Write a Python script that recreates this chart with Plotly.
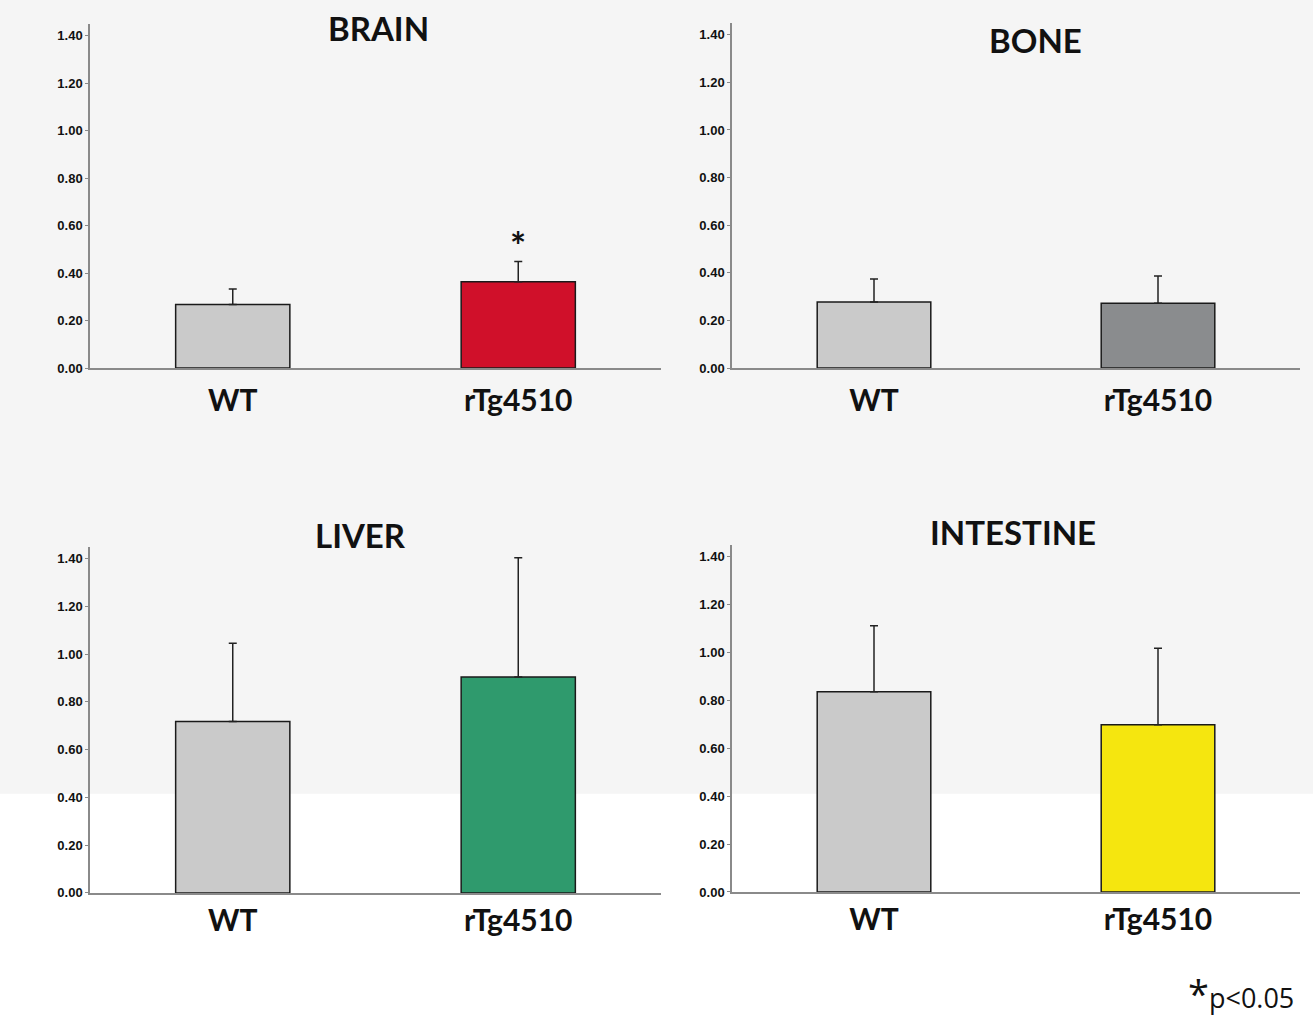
import plotly.graph_objects as go

categories = ["WT", "rTg4510"]
panel_titles = ["BRAIN", "BONE", "LIVER", "INTESTINE"]
means = {
    "BRAIN": [0.268, 0.364],
    "BONE": [0.278, 0.272],
    "LIVER": [0.718, 0.904],
    "INTESTINE": [0.836, 0.698],
}
sems = {
    "BRAIN": [0.065, 0.085],
    "BONE": [0.096, 0.115],
    "LIVER": [0.328, 0.500],
    "INTESTINE": [0.276, 0.320],
}
significant = {"BRAIN": [False, True], "BONE": [False, False],
               "LIVER": [False, False], "INTESTINE": [False, False]}
tick_vals = [0.0, 0.2, 0.4, 0.6, 0.8, 1.0, 1.2, 1.4]

bar_colors = {
    "BRAIN": ["#cacaca", "#d0102a"],
    "BONE": ["#cacaca", "#8a8c8e"],
    "LIVER": ["#cacaca", "#2f9a6d"],
    "INTESTINE": ["#cacaca", "#f5e60f"],
}

W, H = 1313, 1019
# pixel boxes: (x0, x1, ytop, ybottom)
boxes = {
    "BRAIN": (90, 661, 24, 371),
    "BONE": (732, 1300, 23, 371),
    "LIVER": (90, 661, 551, 900),
    "INTESTINE": (732, 1300, 549, 899),
}
title_pos = {"BRAIN": (378, 28), "BONE": (1035, 40), "LIVER": (360, 539), "INTESTINE": (1013, 536)}
x_label_standoff = {"BRAIN": 5, "BONE": 5, "LIVER": 0, "INTESTINE": 0}


def px(x):
    return x / W


def py(y):
    return 1 - y / H


fig = go.Figure()
layout = {}
for i, name in enumerate(panel_titles):
    idx = "" if i == 0 else str(i + 1)
    x0, x1, yt, yb = boxes[name]
    fig.add_trace(go.Bar(
        x=categories, y=means[name],
        xaxis="x" + idx, yaxis="y" + idx,
        width=0.4,
        marker=dict(color=bar_colors[name], line=dict(color="#1a1a1a", width=1.5)),
        error_y=dict(type="data", array=sems[name], arrayminus=[0, 0], symmetric=False,
                     color="#222222", thickness=1.5, width=4),
        showlegend=False, hoverinfo="skip",
    ))
    layout["xaxis" + idx] = dict(
        domain=[px(x0), px(x1)], anchor="y" + idx, type="category",
        categoryorder="array", categoryarray=categories,
        range=[-0.5, 1.5], showline=True, linecolor="#8a8a8a", linewidth=1.5,
        ticks="", showgrid=False, zeroline=False,
        tickfont=dict(family="Lato", size=30, color="#111111", weight="bold"),
        ticklabelstandoff=x_label_standoff[name],
    )
    layout["yaxis" + idx] = dict(
        domain=[py(yb), py(yt)], anchor="x" + idx,
        range=[0, 1.45], tickvals=tick_vals, tickformat=".2f",
        showline=True, linecolor="#8a8a8a", linewidth=1.5,
        ticks="outside", ticklen=3, tickcolor="#8a8a8a",
        showgrid=False, zeroline=False,
        tickfont=dict(family="Liberation Sans", size=13, color="#111111", weight="bold"),
    )
    tx, ty = title_pos[name]
    fig.add_annotation(x=px(tx), y=py(ty), xref="paper", yref="paper",
                       text="<b>" + name + "</b>", showarrow=False,
                       font=dict(family="Lato", size=33, color="#111111"),
                       xanchor="center", yanchor="middle")
    for j, sig in enumerate(significant[name]):
        if sig:
            fig.add_annotation(x=categories[j], y=means[name][j] + sems[name][j],
                               xref="x" + idx, yref="y" + idx, text="<b>*</b>",
                               showarrow=False, yanchor="bottom", yshift=-9,
                               font=dict(family="Lato", size=38, color="#111111"))

fig.add_annotation(x=px(1296), y=py(1001), xref="paper", yref="paper",
                   text="<span style='font-size:38px'>*</span>p<0.05", showarrow=False,
                   xanchor="right", yanchor="middle",
                   font=dict(family="Open Sans", size=27, color="#111111"))

fig.add_shape(type="rect", xref="paper", yref="paper", x0=0, x1=1, y0=py(800), y1=1,
              fillcolor="#f5f5f5", line=dict(width=0), layer="below")

fig.update_layout(
    width=W, height=H, margin=dict(l=0, r=0, t=0, b=0),
    paper_bgcolor="white", plot_bgcolor="rgba(0,0,0,0)",
    bargap=0.6, **layout,
)
fig.write_html("out.html", config={"displayModeBar": False},
               post_script="document.body.style.margin='0';document.body.style.overflow='hidden';")
